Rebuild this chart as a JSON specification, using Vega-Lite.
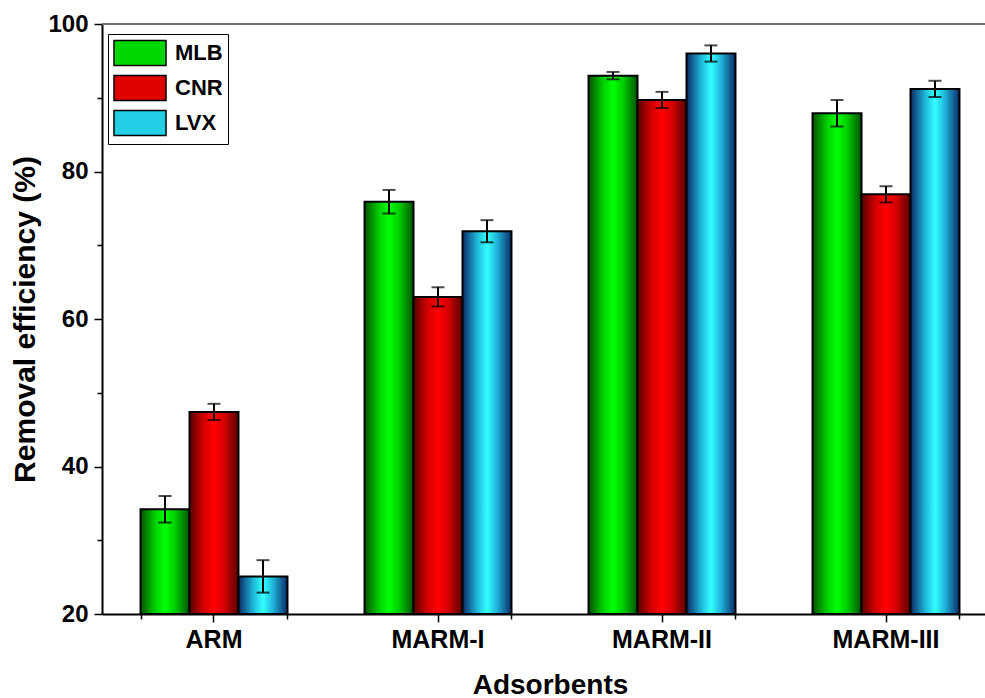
{
  "$schema": "https://vega.github.io/schema/vega-lite/v6.json",
  "width": 883,
  "height": 590,
  "autosize": "none",
  "padding": {"left": 102, "top": 24, "right": 0, "bottom": 84},
  "background": "white",
  "config": {"view": {"stroke": null}, "font": "Liberation Sans"},
  "data": {"values": [
    {"adsorbent": "ARM", "drug": "MLB", "value": 34.2, "lo": 32.4, "hi": 36.0},
    {"adsorbent": "ARM", "drug": "CNR", "value": 47.4, "lo": 46.3, "hi": 48.5},
    {"adsorbent": "ARM", "drug": "LVX", "value": 25.1, "lo": 22.9, "hi": 27.3},
    {"adsorbent": "MARM-I", "drug": "MLB", "value": 75.9, "lo": 74.3, "hi": 77.5},
    {"adsorbent": "MARM-I", "drug": "CNR", "value": 63.0, "lo": 61.7, "hi": 64.3},
    {"adsorbent": "MARM-I", "drug": "LVX", "value": 71.9, "lo": 70.4, "hi": 73.4},
    {"adsorbent": "MARM-II", "drug": "MLB", "value": 93.0, "lo": 92.5, "hi": 93.5},
    {"adsorbent": "MARM-II", "drug": "CNR", "value": 89.7, "lo": 88.6, "hi": 90.8},
    {"adsorbent": "MARM-II", "drug": "LVX", "value": 96.0, "lo": 94.9, "hi": 97.1},
    {"adsorbent": "MARM-III", "drug": "MLB", "value": 87.9, "lo": 86.1, "hi": 89.7},
    {"adsorbent": "MARM-III", "drug": "CNR", "value": 76.9, "lo": 75.8, "hi": 78.0},
    {"adsorbent": "MARM-III", "drug": "LVX", "value": 91.2, "lo": 90.1, "hi": 92.3}
  ]},
  "resolve": {"axis": {"x": "independent", "y": "independent"}},
  "layer": [
    {
      "mark": {"type": "rule", "color": "#6e6e6e", "strokeWidth": 2},
      "encoding": {
        "y": {"datum": 100, "type": "quantitative", "scale": {"domain": [20, 100]},
          "axis": {"orient": "left", "values": [30, 50, 70, 90], "labels": false, "domain": false, "grid": false, "tickSize": 5, "tickColor": "black", "tickWidth": 1.5, "title": null}}
      }
    },
    {
      "mark": {"type": "bar", "stroke": "black", "strokeWidth": 2},
      "encoding": {
        "x": {"field": "adsorbent", "type": "nominal", "sort": ["ARM", "MARM-I", "MARM-II", "MARM-III"],
          "scale": {"range": [0, 896], "paddingInner": 0.344, "paddingOuter": 0.172},
          "axis": {"orient": "bottom", "title": "Adsorbents", "labelAngle": 0, "labelFontSize": 25, "labelFontWeight": "bold", "labelColor": "black", "labelPadding": 5, "tickSize": 8, "tickWidth": 1.5, "tickColor": "black", "domainColor": "black", "domainWidth": 2, "titleFontSize": 28, "titleFontWeight": "bold", "titleColor": "black", "titlePadding": 19, "grid": false}},
        "xOffset": {"field": "drug", "type": "nominal", "sort": ["MLB", "CNR", "LVX"], "scale": {"paddingInner": 0, "paddingOuter": 0}},
        "y": {"field": "value", "type": "quantitative", "scale": {"domain": [20, 100]},
          "axis": {"orient": "left", "values": [20, 40, 60, 80, 100], "title": "Removal efficiency (%)", "labelFontSize": 24, "labelFontWeight": "bold", "labelColor": "black", "labelPadding": 6, "tickSize": 8, "tickWidth": 1.5, "tickColor": "black", "domainColor": "black", "domainWidth": 2, "titleFontSize": 30, "titleFontWeight": "bold", "titleColor": "black", "titlePadding": 7, "grid": false}},
        "y2": {"datum": 20},
        "fill": {"field": "drug", "type": "nominal",
          "scale": {"domain": ["MLB", "CNR", "LVX"], "range": ["#00d800", "#e00000", "#22cfe6"]},
          "condition": [
            {"test": "datum.drug === 'MLB'", "value": {"gradient": "linear", "x1": 0, "y1": 0, "x2": 1, "y2": 0, "stops": [{"offset": 0, "color": "#005200"}, {"offset": 0.3, "color": "#00d000"}, {"offset": 0.5, "color": "#00ff00"}, {"offset": 0.7, "color": "#00d000"}, {"offset": 1, "color": "#005200"}]}},
            {"test": "datum.drug === 'CNR'", "value": {"gradient": "linear", "x1": 0, "y1": 0, "x2": 1, "y2": 0, "stops": [{"offset": 0, "color": "#580000"}, {"offset": 0.3, "color": "#d80000"}, {"offset": 0.5, "color": "#ff0000"}, {"offset": 0.7, "color": "#d80000"}, {"offset": 1, "color": "#580000"}]}},
            {"test": "datum.drug === 'LVX'", "value": {"gradient": "linear", "x1": 0, "y1": 0, "x2": 1, "y2": 0, "stops": [{"offset": 0, "color": "#0b2a66"}, {"offset": 0.3, "color": "#1fb6d8"}, {"offset": 0.5, "color": "#33ffff"}, {"offset": 0.7, "color": "#1fb6d8"}, {"offset": 1, "color": "#0b2a66"}]}}
          ],
          "legend": {"orient": "none", "legendX": 6, "legendY": 10, "title": null, "strokeColor": "black", "padding": 5, "symbolType": "M-1,-0.96H3V0.96H-1Z", "symbolSize": 676, "symbolStrokeColor": "black", "symbolStrokeWidth": 1.5, "symbolOpacity": 1, "labelFontSize": 22, "labelFontWeight": "bold", "labelColor": "black", "labelOffset": 34, "rowPadding": 3}
        }
      }
    },
    {
      "mark": {"type": "rule", "color": "black", "strokeWidth": 2},
      "encoding": {
        "x": {"field": "adsorbent", "type": "nominal", "sort": ["ARM", "MARM-I", "MARM-II", "MARM-III"],
          "axis": {"orient": "bottom", "tickBand": "extent", "labels": false, "domain": false, "grid": false, "tickSize": 5, "tickColor": "black", "tickWidth": 1.5, "title": null}},
        "xOffset": {"field": "drug", "type": "nominal", "sort": ["MLB", "CNR", "LVX"]},
        "y": {"field": "lo", "type": "quantitative", "axis": null},
        "y2": {"field": "hi"}
      }
    },
    {
      "mark": {"type": "tick", "color": "black", "size": 13, "thickness": 2},
      "encoding": {
        "x": {"field": "adsorbent", "type": "nominal", "sort": ["ARM", "MARM-I", "MARM-II", "MARM-III"], "axis": null},
        "xOffset": {"field": "drug", "type": "nominal", "sort": ["MLB", "CNR", "LVX"]},
        "y": {"field": "lo", "type": "quantitative", "axis": null}
      }
    },
    {
      "mark": {"type": "tick", "color": "black", "size": 13, "thickness": 2},
      "encoding": {
        "x": {"field": "adsorbent", "type": "nominal", "sort": ["ARM", "MARM-I", "MARM-II", "MARM-III"], "axis": null},
        "xOffset": {"field": "drug", "type": "nominal", "sort": ["MLB", "CNR", "LVX"]},
        "y": {"field": "hi", "type": "quantitative", "axis": null}
      }
    }
  ]
}
